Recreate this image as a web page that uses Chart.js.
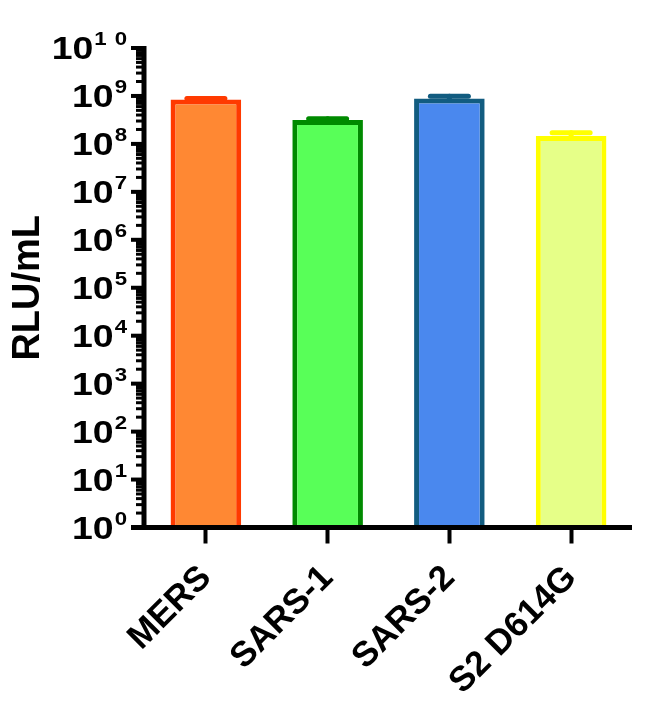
<!DOCTYPE html>
<html><head><meta charset="utf-8">
<script src="https://cdn.jsdelivr.net/npm/chart.js@4/dist/chart.umd.min.js"></script>
<style>html,body{margin:0;padding:0;background:#fff}canvas{display:block}</style>
</head><body>
<canvas id="c" width="655" height="715"></canvas>
<script>
// ---- data ----
const categories = ['MERS', 'SARS-1', 'SARS-2', 'S2 D614G'];
const rluMean = [8.4e8, 3.15e8, 8.9e8, 1.46e8];
const rluUpper = [8.85e8, 3.36e8, 9.8e8, 1.71e8];
const yTickExponents = [0, 1, 2, 3, 4, 5, 6, 7, 8, 9, 10];
const fillColors = ['#FF8833', '#58FF58', '#4A88EE', '#E6FF88'];
const edgeColors = ['#FF3A00', '#008A00', '#125C80', '#FFFF00'];

const FONT = '"Liberation Sans", Arial, sans-serif';
const STRETCH = 1.17;

const axesPlugin = {
  id: 'axesPlugin',
  afterDraw(chart) {
    const ctx = chart.ctx;
    const y = chart.scales.y;
    const ca = chart.chartArea;
    const axX = ca.left - 1;
    ctx.save();
    ctx.strokeStyle = '#000';
    ctx.lineCap = 'butt';
    // minor ticks
    ctx.lineWidth = 3;
    for (let e = 0; e < yTickExponents.length - 1; e++) {
      for (let m = 2; m <= 9; m++) {
        const py = y.getPixelForValue(m * Math.pow(10, yTickExponents[e]));
        ctx.beginPath(); ctx.moveTo(136, py); ctx.lineTo(axX, py); ctx.stroke();
      }
    }
    // major ticks
    ctx.lineWidth = 4;
    yTickExponents.forEach(e => {
      const py = y.getPixelForValue(Math.pow(10, e));
      ctx.beginPath(); ctx.moveTo(131, py); ctx.lineTo(axX, py); ctx.stroke();
    });
    // y axis line
    ctx.lineWidth = 5;
    const yTop = y.getPixelForValue(Math.pow(10, yTickExponents[yTickExponents.length - 1])) - 2;
    const yBot = y.getPixelForValue(1);
    ctx.beginPath(); ctx.moveTo(axX, yTop); ctx.lineTo(axX, yBot + 2); ctx.stroke();
    // x axis line
    ctx.beginPath(); ctx.moveTo(131, yBot); ctx.lineTo(ca.right, yBot); ctx.stroke();
    // y tick labels (wide bold face)
    ctx.fillStyle = '#000';
    const right = 127;
    yTickExponents.forEach(e => {
      const py = y.getPixelForValue(Math.pow(10, e));
      const expStr = String(e);
      ctx.font = 'bold 19px ' + FONT;
      let ew;
      ctx.textBaseline = 'alphabetic';
      ctx.textAlign = 'left';
      if (expStr.length > 1) {
        const gap = 8;
        const w1 = ctx.measureText(expStr[0]).width * STRETCH, w2 = ctx.measureText(expStr[1]).width * STRETCH;
        ew = w1 + gap + w2;
        ctx.save(); ctx.translate(right - ew, py - 3); ctx.scale(STRETCH, 1); ctx.fillText(expStr[0], 0, 0); ctx.restore();
        ctx.save(); ctx.translate(right - w2, py - 3); ctx.scale(STRETCH, 1); ctx.fillText(expStr[1], 0, 0); ctx.restore();
      } else {
        ew = ctx.measureText(expStr).width * STRETCH;
        ctx.save(); ctx.translate(right - ew, py - 3); ctx.scale(STRETCH, 1); ctx.fillText(expStr, 0, 0); ctx.restore();
      }
      ctx.font = 'bold 32px ' + FONT;
      ctx.textAlign = 'right';
      ctx.save(); ctx.translate(right - ew - 1, py + 11); ctx.scale(STRETCH, 1); ctx.fillText('10', 0, 0); ctx.restore();
    });
    ctx.restore();
  }
};

const errorBarPlugin = {
  id: 'errorBars',
  afterDatasetsDraw(chart) {
    const ctx = chart.ctx;
    const meta = chart.getDatasetMeta(0);
    const y = chart.scales.y;
    ctx.save();
    ctx.lineCap = 'round';
    ctx.lineWidth = 5;
    meta.data.forEach((bar, i) => {
      const top = y.getPixelForValue(rluUpper[i]);
      const base = y.getPixelForValue(rluMean[i]);
      ctx.strokeStyle = edgeColors[i];
      ctx.beginPath(); ctx.moveTo(bar.x, base); ctx.lineTo(bar.x, top); ctx.stroke();
      ctx.beginPath(); ctx.moveTo(bar.x - 19, top); ctx.lineTo(bar.x + 19, top); ctx.stroke();
    });
    ctx.restore();
  }
};

new Chart(document.getElementById('c'), {
  type: 'bar',
  data: {
    labels: categories,
    datasets: [{
      data: rluMean,
      backgroundColor: fillColors,
      borderColor: edgeColors,
      borderWidth: 5,
      borderSkipped: 'bottom',
      barPercentage: 0.58,
      categoryPercentage: 1.0
    }]
  },
  options: {
    responsive: false,
    animation: false,
    devicePixelRatio: 1,
    layout: { padding: { top: 48, right: 23, bottom: 0, left: 0 } },
    plugins: { legend: { display: false }, tooltip: { enabled: false } },
    scales: {
      x: {
        type: 'category',
        offset: true,
        border: { display: false },
        grid: { display: true, drawOnChartArea: false, offset: false, tickLength: 16, tickWidth: 4, tickColor: '#000' },
        ticks: { color: '#000', font: { family: FONT, size: 35, weight: 'bold' }, maxRotation: 45, minRotation: 45, padding: 14, autoSkip: false },
        afterFit(scale) { scale.height = 715 - 527.5; }
      },
      y: {
        type: 'logarithmic',
        min: 1,
        max: 1e10,
        border: { display: false },
        grid: { display: false },
        ticks: { display: false },
        title: { display: true, text: 'RLU/mL', color: '#000', font: { family: FONT, size: 38, weight: 'bold' }, padding: { top: 6, bottom: 0 } },
        afterFit(scale) { scale.width = 145; }
      }
    }
  },
  plugins: [errorBarPlugin, axesPlugin]
});
</script>
</body></html>
